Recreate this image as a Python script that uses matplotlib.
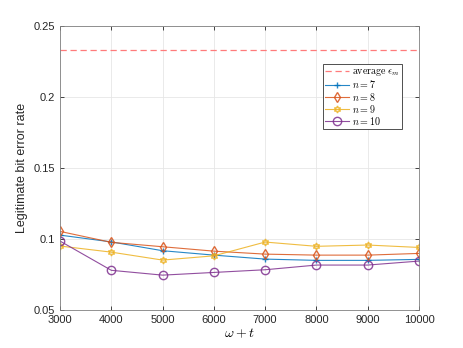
import matplotlib
matplotlib.use("Agg")
import matplotlib.pyplot as plt

plt.rcParams['font.family'] = ['Liberation Sans', 'DejaVu Sans']
plt.rcParams['mathtext.fontset'] = 'cm'

x = [3000, 4000, 5000, 6000, 7000, 8000, 9000, 10000]
n7 = [0.1028, 0.0980, 0.0918, 0.0887, 0.0859, 0.0850, 0.0850, 0.0857]
n8 = [0.1054, 0.0977, 0.0946, 0.0915, 0.0894, 0.0887, 0.0887, 0.0899]
n9 = [0.0951, 0.0908, 0.0852, 0.0882, 0.0979, 0.0949, 0.0958, 0.0941]
n10 = [0.0986, 0.0780, 0.0746, 0.0765, 0.0784, 0.0817, 0.0817, 0.0845]
avg_eps = 0.2335

fig = plt.figure(figsize=(4.63, 3.48), dpi=100)
ax = fig.add_axes([0.1296, 0.109, 0.7754, 0.816])

ax.axhline(avg_eps, color='#ff7b7b', ls='--', lw=0.9, dashes=(5, 3), label=r'$\mathrm{average}\ \epsilon_m$')
ax.plot(x, n7, color='#0072bd', marker='+', ms=5, lw=0.8, alpha=0.85, label=r'$n=7$')
ax.plot(x, n8, color='#d95319', marker='d', ms=5, mfc='none', lw=0.8, alpha=0.85, label=r'$n=8$')
ax.plot(x, n9, color='#edb120', marker=(6, 1, 0), ms=5, mfc='none', lw=0.8, alpha=0.85, label=r'$n=9$')
ax.plot(x, n10, color='#7e2f8e', marker='o', ms=6, mfc='none', lw=0.8, alpha=0.85, label=r'$n=10$')

ax.set_xlim(3000, 10000)
ax.set_ylim(0.05, 0.25)
ax.set_xticks(x)
ax.set_yticks([0.05, 0.1, 0.15, 0.2, 0.25])
ax.set_yticklabels(['0.05', '0.1', '0.15', '0.2', '0.25'])
ax.tick_params(labelsize=8, colors='#262626', direction='in', length=3, width=0.6, top=True, right=True)
ax.grid(True, color='#e6e6e6', lw=0.6)
ax.set_axisbelow(True)
for s in ax.spines.values():
    s.set_color('#808080')
    s.set_linewidth(0.6)

ax.set_xlabel(r'$\omega+t$', fontsize=10, labelpad=1)
ax.set_ylabel('Legitimate bit error rate', fontsize=9, color='#262626', labelpad=4)

leg = ax.legend(loc='upper right', bbox_to_anchor=(0.952, 0.866), fontsize=7.2, fancybox=False,
                edgecolor='#333333', framealpha=1, handlelength=2.4, borderpad=0.2,
                labelspacing=0.02, handletextpad=0.3, borderaxespad=0)
leg.get_frame().set_linewidth(0.6)

fig.savefig('out.png', dpi=100)
